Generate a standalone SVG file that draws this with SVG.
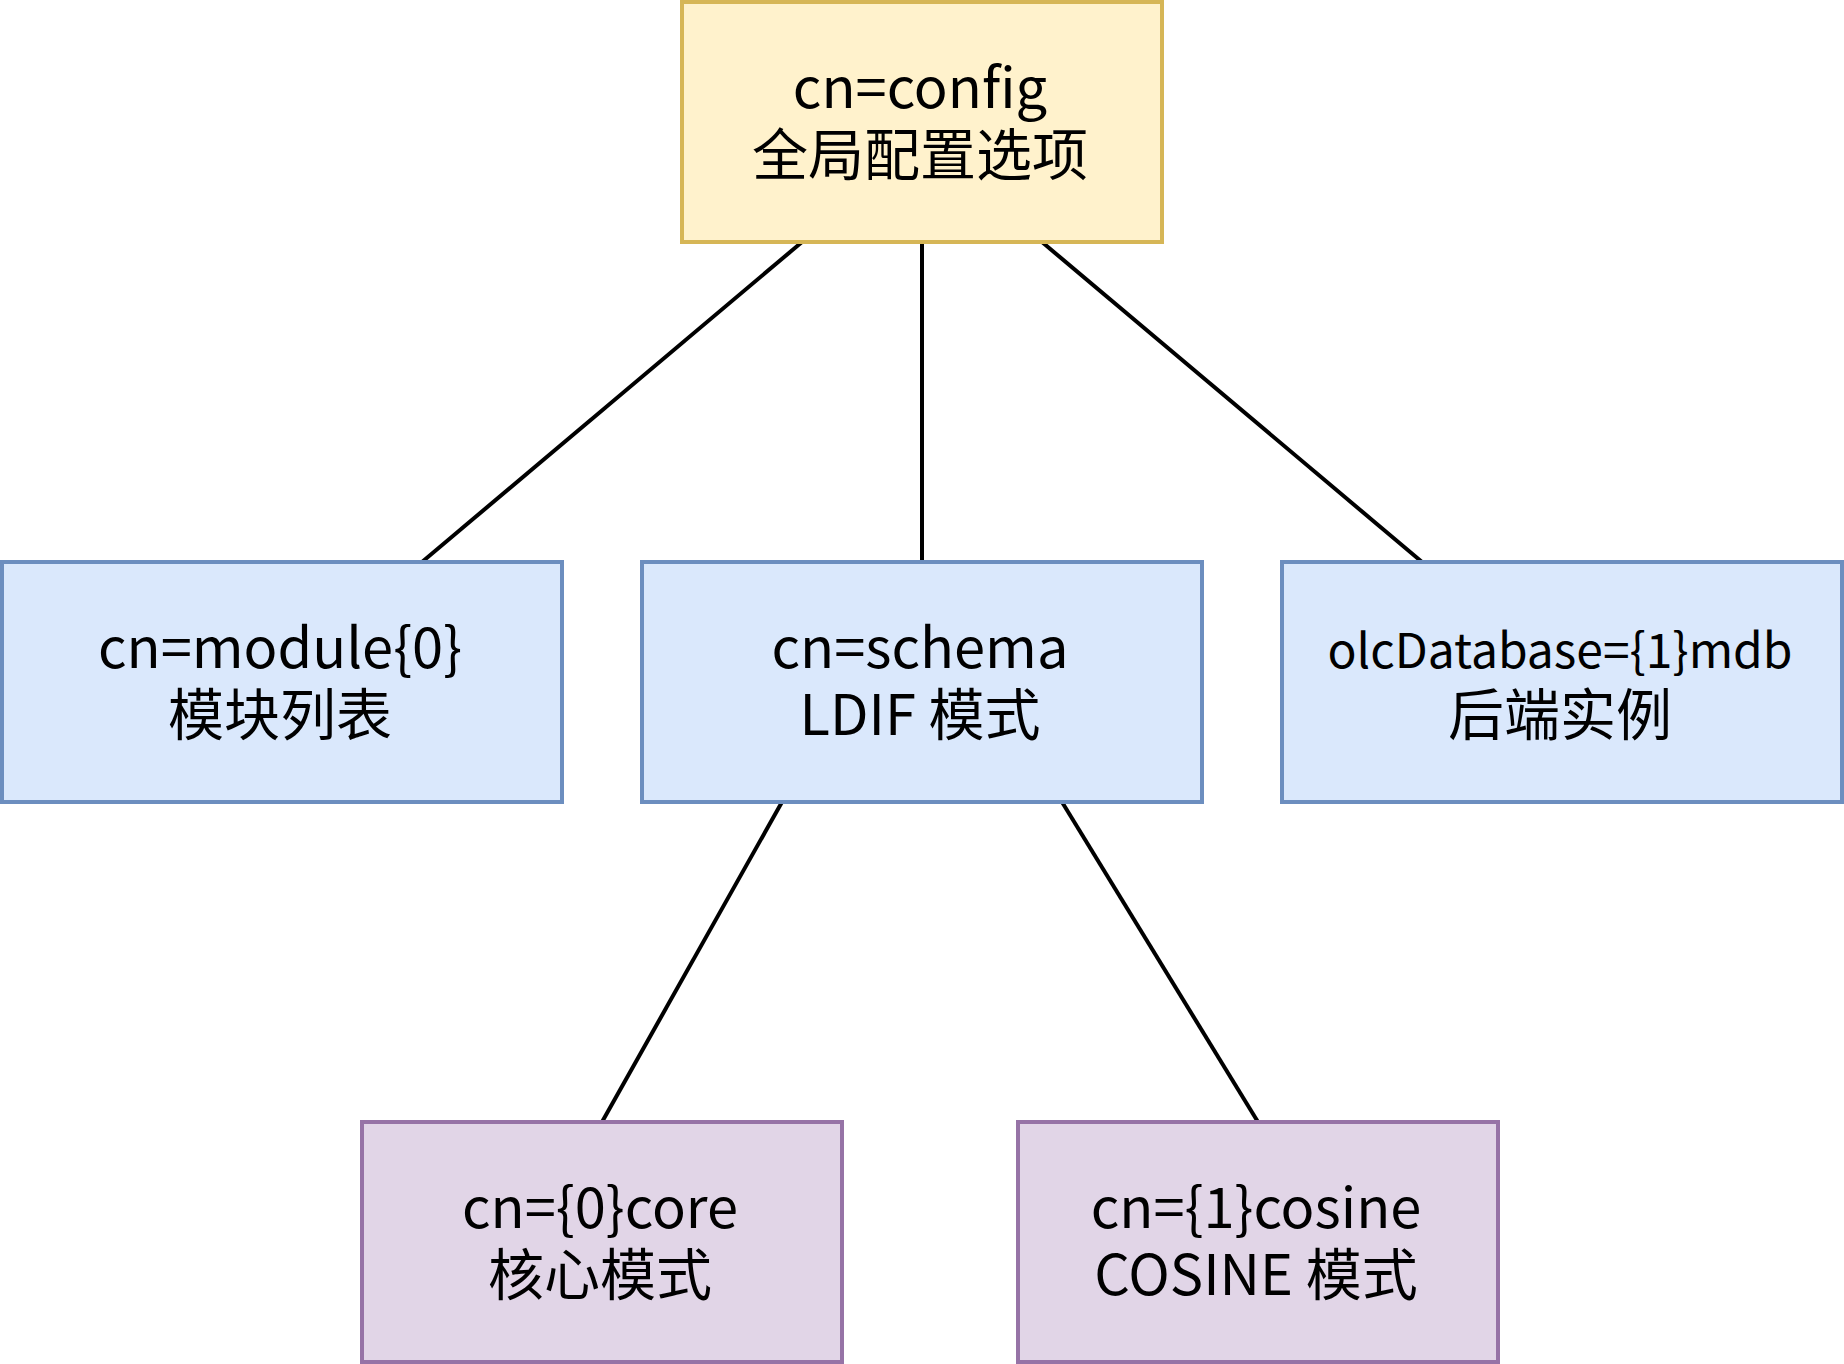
<svg xmlns="http://www.w3.org/2000/svg" width="1844" height="1364" viewBox="0 0 1844 1364">
<style>
.t{font-family:"Noto Sans CJK SC","Noto Sans",sans-serif;font-size:56px;fill:#000;text-anchor:middle}
.y{fill:#fff2cc;stroke:#d6b656;stroke-width:4}
.b{fill:#dae8fc;stroke:#6c8ebf;stroke-width:4}
.p{fill:#e1d5e7;stroke:#9673a6;stroke-width:4}
.e{stroke:#000;stroke-width:4;fill:none}
</style>
<rect width="1844" height="1364" fill="#fff"/>
<g id="edges">
<line class="e" x1="802" y1="242" x2="422" y2="562"/>
<line class="e" x1="922" y1="242" x2="922" y2="562"/>
<line class="e" x1="1042" y1="242" x2="1422" y2="562"/>
<line class="e" x1="782" y1="802" x2="602" y2="1122"/>
<line class="e" x1="1062" y1="802" x2="1258" y2="1122"/>
</g>
<g id="config">
<rect class="y" x="682" y="2" width="480" height="240"/>
<text class="t" x="920" y="108">cn=config</text>
<text class="t" x="920" y="175">全局配置选项</text>
</g>
<g id="module">
<rect class="b" x="2" y="562" width="560" height="240"/>
<text class="t" x="280" y="668">cn=module{0}</text>
<text class="t" x="280" y="735">模块列表</text>
</g>
<g id="schema">
<rect class="b" x="642" y="562" width="560" height="240"/>
<text class="t" x="920" y="668">cn=schema</text>
<text class="t" x="920" y="735">LDIF 模式</text>
</g>
<g id="mdb">
<rect class="b" x="1282" y="562" width="560" height="240"/>
<text class="t" x="1560" y="668" style="font-size:48px">olcDatabase={1}mdb</text>
<text class="t" x="1560" y="735">后端实例</text>
</g>
<g id="core">
<rect class="p" x="362" y="1122" width="480" height="240"/>
<text class="t" x="600" y="1228">cn={0}core</text>
<text class="t" x="600" y="1295">核心模式</text>
</g>
<g id="cosine">
<rect class="p" x="1018" y="1122" width="480" height="240"/>
<text class="t" x="1256" y="1228">cn={1}cosine</text>
<text class="t" x="1256" y="1295">COSINE 模式</text>
</g>
</svg>
